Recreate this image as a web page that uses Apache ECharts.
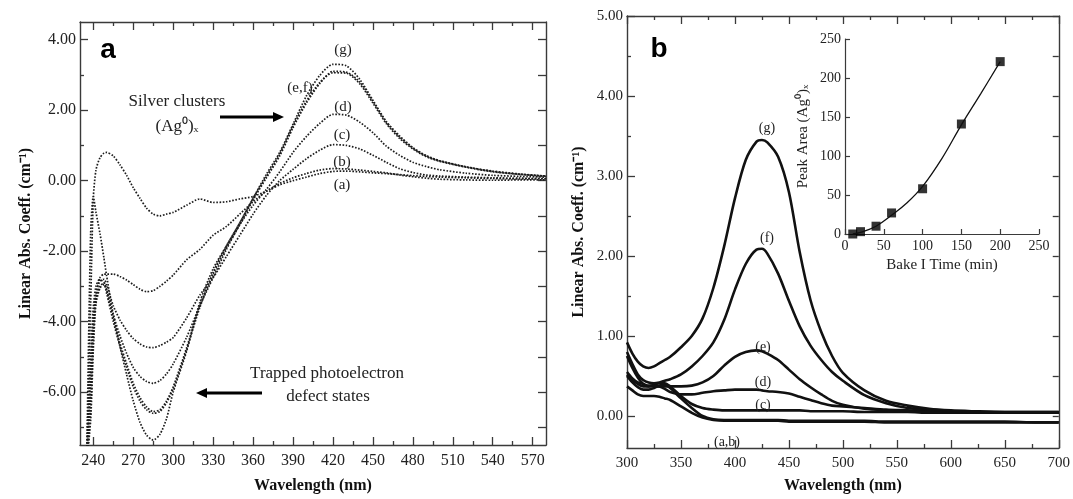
<!DOCTYPE html>
<html>
<head>
<meta charset="utf-8">
<script src="https://cdn.jsdelivr.net/npm/echarts@6/dist/echarts.min.js"></script>
<style>
html,body{margin:0;padding:0;background:#fff;}
#chart{width:1073px;height:499px;}
</style>
</head>
<body>
<div id="chart"></div>
<script>
// ---------- Panel a: wavelength (nm) and absorption (cm^-1), dotted curves ----------
const waveA = [235, 238, 240, 242, 245, 248, 250, 255, 260, 265, 270, 275, 280, 285, 290, 295, 300, 310, 320, 330, 340, 350, 360, 370, 380, 390, 400, 410, 420, 430, 440, 450, 460, 470, 480, 490, 500, 520, 540, 560, 580];
const absA_a = [-8, -3.5, -0.5, 0.3, 0.65, 0.78, 0.8, 0.7, 0.45, 0.15, -0.2, -0.5, -0.78, -0.95, -1.0, -0.95, -0.9, -0.7, -0.52, -0.62, -0.6, -0.52, -0.45, -0.3, -0.12, 0.0, 0.1, 0.2, 0.26, 0.27, 0.25, 0.22, 0.2, 0.17, 0.14, 0.12, 0.1, 0.08, 0.06, 0.05, 0.05];
const absA_b = [-8, -5, -3.6, -3.0, -2.75, -2.65, -2.65, -2.65, -2.72, -2.82, -2.95, -3.08, -3.15, -3.12, -3.0, -2.85, -2.68, -2.25, -1.95, -1.55, -1.3, -0.95, -0.6, -0.3, -0.08, 0.08, 0.2, 0.3, 0.34, 0.33, 0.3, 0.26, 0.22, 0.16, 0.11, 0.07, 0.04, 0.02, 0.01, 0.02, 0.02];
const absA_c = [-8, -5.5, -4.0, -3.2, -2.85, -2.8, -2.95, -3.55, -3.95, -4.25, -4.48, -4.63, -4.72, -4.74, -4.68, -4.58, -4.45, -3.9, -3.25, -2.75, -2.15, -1.55, -0.95, -0.42, 0.0, 0.32, 0.62, 0.86, 1.02, 1.0, 0.9, 0.72, 0.52, 0.34, 0.23, 0.16, 0.13, 0.1, 0.08, 0.07, 0.06];
const absA_d = [-8, -6, -4.2, -3.3, -2.8, -2.9, -3.1, -3.8, -4.4, -4.9, -5.3, -5.55, -5.7, -5.75, -5.67, -5.48, -5.2, -4.45, -3.55, -2.75, -1.95, -1.25, -0.7, -0.25, 0.25, 0.8, 1.25, 1.62, 1.88, 1.86, 1.66, 1.36, 0.98, 0.72, 0.52, 0.4, 0.31, 0.21, 0.15, 0.12, 0.1];
const absA_e = [-8, -6.5, -4.5, -3.4, -3.0, -2.9, -3.1, -3.9, -4.6, -5.2, -5.75, -6.15, -6.42, -6.55, -6.5, -6.25, -5.85, -4.75, -3.55, -2.6, -1.85, -1.2, -0.5, 0.12, 0.75, 1.55, 2.25, 2.78, 3.06, 3.05, 2.75, 2.2, 1.62, 1.2, 0.9, 0.68, 0.55, 0.38, 0.25, 0.18, 0.12];
const absA_f = [-8, -6.8, -4.8, -3.5, -3.05, -2.95, -3.2, -4.0, -4.7, -5.3, -5.85, -6.25, -6.5, -6.6, -6.55, -6.3, -5.9, -4.8, -3.6, -2.65, -1.9, -1.25, -0.55, 0.08, 0.7, 1.5, 2.2, 2.75, 3.1, 3.08, 2.8, 2.25, 1.66, 1.24, 0.92, 0.7, 0.56, 0.39, 0.26, 0.18, 0.13];
const absA_g = [-8, -1.5, -0.45, -0.9, -1.5, -2.2, -2.7, -3.8, -4.7, -5.5, -6.25, -6.85, -7.22, -7.36, -7.2, -6.75, -6.0, -4.85, -3.45, -2.5, -1.85, -1.2, -0.5, 0.18, 0.8, 1.6, 2.4, 2.98, 3.3, 3.26, 2.88, 2.28, 1.68, 1.27, 0.94, 0.71, 0.57, 0.39, 0.27, 0.19, 0.13];
const ticksA_xMajor = [240, 270, 300, 330, 360, 390, 420, 450, 480, 510, 540, 570];
const ticksA_xMinor = [255, 285, 315, 345, 375, 405, 435, 465, 495, 525, 555];
const ticksA_yMajor = [-6, -4, -2, 0, 2, 4];
const ticksA_yMinor = [-7, -5, -3, -1, 1, 3];

// ---------- Panel b: solid curves ----------
const waveB = [300, 305, 310, 315, 320, 325, 330, 335, 340, 350, 360, 370, 380, 390, 400, 410, 420, 425, 430, 440, 450, 460, 470, 480, 490, 500, 520, 540, 560, 580, 600, 620, 650, 680, 700];
const absB_a = [0.37, 0.32, 0.27, 0.25, 0.25, 0.25, 0.24, 0.22, 0.2, 0.12, 0.04, -0.02, -0.05, -0.06, -0.06, -0.06, -0.06, -0.06, -0.06, -0.06, -0.07, -0.07, -0.07, -0.07, -0.07, -0.07, -0.07, -0.08, -0.08, -0.08, -0.08, -0.08, -0.08, -0.08, -0.08];
const absB_b = [0.5, 0.42, 0.36, 0.33, 0.33, 0.35, 0.38, 0.39, 0.35, 0.22, 0.1, 0.0, -0.04, -0.05, -0.05, -0.05, -0.05, -0.05, -0.05, -0.05, -0.06, -0.06, -0.06, -0.06, -0.06, -0.06, -0.06, -0.07, -0.07, -0.07, -0.07, -0.07, -0.07, -0.08, -0.08];
const absB_c = [0.52, 0.45, 0.4, 0.37, 0.37, 0.39, 0.41, 0.41, 0.37, 0.25, 0.15, 0.1, 0.08, 0.07, 0.07, 0.07, 0.07, 0.07, 0.07, 0.07, 0.07, 0.07, 0.06, 0.06, 0.06, 0.06, 0.05, 0.05, 0.05, 0.04, 0.04, 0.04, 0.04, 0.04, 0.04];
const absB_d = [0.55, 0.47, 0.42, 0.4, 0.38, 0.38, 0.37, 0.34, 0.3, 0.27, 0.27, 0.29, 0.31, 0.32, 0.33, 0.33, 0.33, 0.32, 0.31, 0.3, 0.28, 0.24, 0.2, 0.16, 0.13, 0.12, 0.1, 0.08, 0.07, 0.06, 0.05, 0.05, 0.04, 0.04, 0.04];
const absB_e = [0.75, 0.6, 0.48, 0.4, 0.37, 0.37, 0.37, 0.37, 0.37, 0.37, 0.38, 0.42, 0.5, 0.63, 0.74, 0.8, 0.82, 0.81, 0.78, 0.7, 0.58, 0.46, 0.36, 0.27, 0.19, 0.14, 0.09, 0.07, 0.06, 0.05, 0.05, 0.05, 0.04, 0.04, 0.04];
const absB_f = [0.8, 0.65, 0.52, 0.45, 0.42, 0.41, 0.42, 0.44, 0.46, 0.52, 0.62, 0.75, 0.92, 1.2, 1.58, 1.9, 2.08, 2.09, 2.03, 1.78, 1.44, 1.12, 0.88, 0.7, 0.55, 0.44, 0.26, 0.16, 0.1, 0.08, 0.06, 0.05, 0.05, 0.05, 0.05];
const absB_g = [0.92, 0.78, 0.68, 0.62, 0.6, 0.62, 0.66, 0.7, 0.74, 0.86, 1.0, 1.22, 1.6, 2.12, 2.72, 3.2, 3.43, 3.45, 3.42, 3.24, 2.8, 2.05, 1.45, 1.05, 0.75, 0.54, 0.32, 0.19, 0.13, 0.09, 0.07, 0.06, 0.05, 0.05, 0.05];
const ticksB_yMajor = [0, 1, 2, 3, 4, 5];
const ticksB_yMinor = [0.5, 1.5, 2.5, 3.5, 4.5];

// ---------- Inset: peak area vs bake time ----------
const bakeTime = [10, 20, 40, 60, 100, 150, 200];
const peakArea = [0, 3, 10, 27, 58, 141, 221];
const fitTime = [10, 20, 40, 60, 80, 100, 125, 150, 175, 200];
const fitArea = [0, 2, 10, 24, 40, 61, 97, 140, 180, 221];

const pairs = (xs, ys) => xs.map((x, i) => [x, ys[i]]);
const SERIF = '"Liberation Serif","Times New Roman",serif';
const AX = '#3a3a3a';
const TXT = '#222';
const HIDDEN_LINE = {show: false, onZero: false};

function vAxisBase(extra) {
  return Object.assign({
    type: 'value', splitLine: {show: false},
    axisLine: {show: true, onZero: false, lineStyle: {color: AX, width: 1.4}},
  }, extra);
}

const chart = echarts.init(document.getElementById('chart'), null, {renderer: 'canvas'});

const xAxes = [
  // grid 0 (panel a)
  vAxisBase({gridIndex: 0, position: 'bottom', min: 230, max: 580,
    axisTick: {inside: true, length: 8, customValues: ticksA_xMajor, lineStyle: {color: AX, width: 1.3}},
    axisLabel: {customValues: ticksA_xMajor, fontFamily: SERIF, fontSize: 16, color: TXT, margin: 8},
    name: 'Wavelength (nm)', nameLocation: 'middle', nameGap: 33,
    nameTextStyle: {fontFamily: SERIF, fontWeight: 'bold', fontSize: 16, color: '#111'}}),
  vAxisBase({gridIndex: 0, position: 'bottom', min: 230, max: 580, axisLine: HIDDEN_LINE,
    axisTick: {inside: true, length: 4, customValues: ticksA_xMinor, lineStyle: {color: AX, width: 1.3}},
    axisLabel: {show: false}}),
  vAxisBase({gridIndex: 0, position: 'top', min: 230, max: 580,
    axisTick: {inside: true, length: 8, customValues: ticksA_xMajor, lineStyle: {color: AX, width: 1.3}},
    axisLabel: {show: false}}),
  vAxisBase({gridIndex: 0, position: 'top', min: 230, max: 580, axisLine: HIDDEN_LINE,
    axisTick: {inside: true, length: 4, customValues: ticksA_xMinor, lineStyle: {color: AX, width: 1.3}},
    axisLabel: {show: false}}),
  // grid 1 (panel b)
  vAxisBase({gridIndex: 1, position: 'bottom', min: 300, max: 700, interval: 50,
    axisTick: {inside: true, length: 8, lineStyle: {color: AX, width: 1.3}},
    minorTick: {show: true, splitNumber: 2, length: 4, lineStyle: {color: AX, width: 1.3}},
    axisLabel: {fontFamily: SERIF, fontSize: 15, color: TXT, margin: 8},
    name: 'Wavelength (nm)', nameLocation: 'middle', nameGap: 30,
    nameTextStyle: {fontFamily: SERIF, fontWeight: 'bold', fontSize: 16, color: '#111'}}),
  vAxisBase({gridIndex: 1, position: 'top', min: 300, max: 700, interval: 50,
    axisTick: {inside: true, length: 8, lineStyle: {color: AX, width: 1.3}},
    minorTick: {show: true, splitNumber: 2, length: 4, lineStyle: {color: AX, width: 1.3}},
    axisLabel: {show: false}}),
  // grid 2 (inset)
  vAxisBase({gridIndex: 2, position: 'bottom', min: 0, max: 250, interval: 50,
    axisLine: {show: true, onZero: false, lineStyle: {color: AX, width: 1.2}},
    axisTick: {inside: true, length: 5, lineStyle: {color: AX, width: 1.2}},
    axisLabel: {fontFamily: SERIF, fontSize: 14, color: TXT, margin: 5},
    name: 'Bake I Time (min)', nameLocation: 'middle', nameGap: 24,
    nameTextStyle: {fontFamily: SERIF, fontSize: 15, color: TXT}})
];

const yAxes = [
  // grid 0
  vAxisBase({gridIndex: 0, position: 'left', min: -7.5, max: 4.5,
    axisTick: {inside: true, length: 8, customValues: ticksA_yMajor, lineStyle: {color: AX, width: 1.3}},
    axisLabel: {customValues: ticksA_yMajor, formatter: v => v.toFixed(2), fontFamily: SERIF, fontSize: 16, color: TXT, margin: 4},
    name: 'Linear Abs. Coeff. (cm\u207B\u00B9)', nameLocation: 'middle', nameGap: 46,
    nameTextStyle: {fontFamily: SERIF, fontWeight: 'bold', fontSize: 16, color: '#111'}}),
  vAxisBase({gridIndex: 0, position: 'left', min: -7.5, max: 4.5, axisLine: HIDDEN_LINE,
    axisTick: {inside: true, length: 4, customValues: ticksA_yMinor, lineStyle: {color: AX, width: 1.3}},
    axisLabel: {show: false}}),
  vAxisBase({gridIndex: 0, position: 'right', min: -7.5, max: 4.5,
    axisTick: {inside: true, length: 8, customValues: ticksA_yMajor.concat(ticksA_yMinor), lineStyle: {color: AX, width: 1.3}},
    axisLabel: {show: false}}),
  // grid 1
  vAxisBase({gridIndex: 1, position: 'left', min: -0.4, max: 5,
    axisTick: {inside: true, length: 8, customValues: ticksB_yMajor, lineStyle: {color: AX, width: 1.3}},
    axisLabel: {customValues: ticksB_yMajor, formatter: v => v.toFixed(2), fontFamily: SERIF, fontSize: 15, color: TXT, margin: 4},
    name: 'Linear Abs. Coeff. (cm\u207B\u00B9)', nameLocation: 'middle', nameGap: 40,
    nameTextStyle: {fontFamily: SERIF, fontWeight: 'bold', fontSize: 16, color: '#111'}}),
  vAxisBase({gridIndex: 1, position: 'left', min: -0.4, max: 5, axisLine: HIDDEN_LINE,
    axisTick: {inside: true, length: 4, customValues: ticksB_yMinor, lineStyle: {color: AX, width: 1.3}},
    axisLabel: {show: false}}),
  vAxisBase({gridIndex: 1, position: 'right', min: -0.4, max: 5,
    axisTick: {inside: true, length: 6, customValues: ticksB_yMajor.concat(ticksB_yMinor), lineStyle: {color: AX, width: 1.3}},
    axisLabel: {show: false}}),
  // grid 2
  vAxisBase({gridIndex: 2, position: 'left', min: 0, max: 250, interval: 50,
    axisLine: {show: true, onZero: false, lineStyle: {color: AX, width: 1.2}},
    axisTick: {inside: true, length: 5, lineStyle: {color: AX, width: 1.2}},
    axisLabel: {fontFamily: SERIF, fontSize: 14, color: TXT, margin: 4},
    name: 'Peak Area (Ag\u2070)\u2093', nameLocation: 'middle', nameGap: 34,
    nameTextStyle: {fontFamily: SERIF, fontSize: 15, color: TXT}})
];

function dottedA(name, ys) {
  return {name, type: 'line', xAxisIndex: 0, yAxisIndex: 0, data: pairs(waveA, ys),
    showSymbol: false, smooth: 0.25, silent: true, clip: true,
    lineStyle: {color: '#1c1c1c', width: 1.7, type: [1.6, 1.6]}};
}
function solidB(name, ys) {
  return {name, type: 'line', xAxisIndex: 4, yAxisIndex: 3, data: pairs(waveB, ys),
    showSymbol: false, smooth: 0.3, silent: true, clip: true,
    lineStyle: {color: '#111', width: 2.6}};
}

function txt(x, y, text, size, extra) {
  return {type: 'text', x, y, z: 100, style: Object.assign({text, fontFamily: SERIF, fontSize: size, fill: TXT, align: 'center', verticalAlign: 'middle'}, extra || {})};
}
function arrow(x1, x2, y) {
  const dir = x2 > x1 ? 1 : -1;
  const hx = x2 - dir * 11;
  return [
    {type: 'line', z: 100, shape: {x1, y1: y, x2: hx, y2: y}, style: {stroke: '#000', lineWidth: 3}},
    {type: 'polygon', z: 100, shape: {points: [[x2, y], [hx, y - 5], [hx, y + 5]]}, style: {fill: '#000'}}
  ];
}

const option = {
  backgroundColor: '#fff',
  animation: false,
  grid: [
    {left: 80, top: 22, width: 466, height: 425},
    {left: 627, top: 16, width: 434, height: 436},
    {left: 845, top: 39, width: 194, height: 195}
  ],
  xAxis: xAxes,
  yAxis: yAxes,
  series: [
    dottedA('a', absA_a), dottedA('b', absA_b), dottedA('c', absA_c), dottedA('d', absA_d),
    dottedA('e', absA_e), dottedA('f', absA_f), dottedA('g', absA_g),
    solidB('a', absB_a), solidB('b', absB_b), solidB('c', absB_c), solidB('d', absB_d),
    solidB('e', absB_e), solidB('f', absB_f), solidB('g', absB_g),
    {name: 'fit', type: 'line', xAxisIndex: 6, yAxisIndex: 6, data: pairs(fitTime, fitArea),
      showSymbol: false, smooth: 0.4, silent: true, lineStyle: {color: '#111', width: 1.3}},
    {name: 'area', type: 'scatter', xAxisIndex: 6, yAxisIndex: 6, data: pairs(bakeTime, peakArea),
      symbol: 'rect', symbolSize: 9, silent: true, clip: false, itemStyle: {color: '#000'}}
  ],
  graphic: [
    txt(108, 50, 'a', 28, {fontFamily: '"Liberation Sans",Arial,sans-serif', fontWeight: 'bold', fill: '#000'}),
    txt(659, 49, 'b', 28, {fontFamily: '"Liberation Sans",Arial,sans-serif', fontWeight: 'bold', fill: '#000'}),
    txt(177, 102, 'Silver clusters', 17),
    txt(177, 127, '(Ag\u2070)\u2093', 17),
    ...arrow(220, 284, 117),
    txt(327, 374, 'Trapped photoelectron', 17),
    txt(328, 397, 'defect states', 17),
    ...arrow(262, 196, 393),
    txt(343, 50, '(g)', 15),
    txt(300, 88, '(e,f)', 15),
    txt(343, 107, '(d)', 15),
    txt(342, 135, '(c)', 15),
    txt(342, 162, '(b)', 15),
    txt(342, 185, '(a)', 15),
    txt(767, 128, '(g)', 14),
    txt(767, 238, '(f)', 14),
    txt(763, 347, '(e)', 14),
    txt(763, 382, '(d)', 14),
    txt(763, 405, '(c)', 14),
    txt(727, 442, '(a,b)', 14)
  ]
};
chart.setOption(option);
</script>
</body>
</html>
